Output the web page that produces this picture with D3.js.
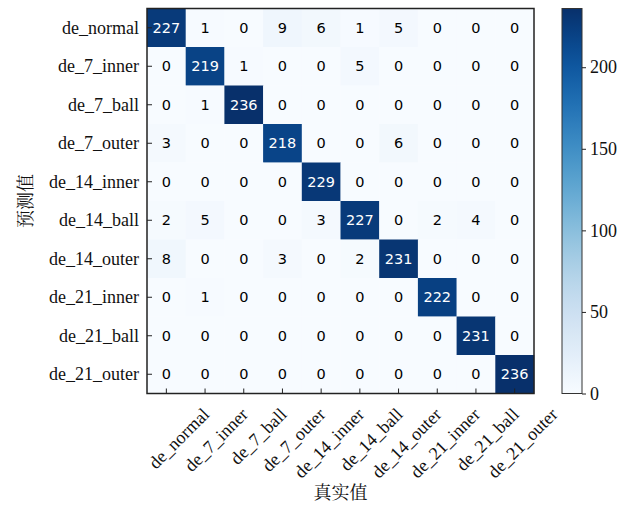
<!DOCTYPE html>
<html>
<head>
<meta charset="utf-8">
<script src="https://cdn.jsdelivr.net/npm/d3@7"></script>
<style>
  html, body { margin: 0; padding: 0; background: #fff; }
  svg { display: block; }
  .serif { font-family: "Liberation Serif", "Times New Roman", serif; }
  .cjk { font-family: "Noto Serif CJK SC", "Noto Sans CJK SC", serif; }
  .num { font-family: "DejaVu Sans", sans-serif; }
</style>
</head>
<body>
<svg id="chart" width="629" height="506"></svg>
<script>
// Class names (rows = predicted, columns = true)
const classes = ["de_normal", "de_7_inner", "de_7_ball", "de_7_outer", "de_14_inner",
                 "de_14_ball", "de_14_outer", "de_21_inner", "de_21_ball", "de_21_outer"];

// Confusion matrix counts, one array per predicted class
const row_de_normal   = [227, 1, 0, 9, 6, 1, 5, 0, 0, 0];
const row_de_7_inner  = [0, 219, 1, 0, 0, 5, 0, 0, 0, 0];
const row_de_7_ball   = [0, 1, 236, 0, 0, 0, 0, 0, 0, 0];
const row_de_7_outer  = [3, 0, 0, 218, 0, 0, 6, 0, 0, 0];
const row_de_14_inner = [0, 0, 0, 0, 229, 0, 0, 0, 0, 0];
const row_de_14_ball  = [2, 5, 0, 0, 3, 227, 0, 2, 4, 0];
const row_de_14_outer = [8, 0, 0, 3, 0, 2, 231, 0, 0, 0];
const row_de_21_inner = [0, 1, 0, 0, 0, 0, 0, 222, 0, 0];
const row_de_21_ball  = [0, 0, 0, 0, 0, 0, 0, 0, 231, 0];
const row_de_21_outer = [0, 0, 0, 0, 0, 0, 0, 0, 0, 236];

const colorbarTicks = [0, 50, 100, 150, 200];
const xTitle = "真实值";
const yTitle = "预测值";

const matrix = [row_de_normal, row_de_7_inner, row_de_7_ball, row_de_7_outer, row_de_14_inner,
                row_de_14_ball, row_de_14_outer, row_de_21_inner, row_de_21_ball, row_de_21_outer];

const svg = d3.select("#chart");
const plot = { left: 147, top: 8.5, width: 387, height: 385 };
const vmax = d3.max(matrix.flat());

const x = d3.scaleBand().domain(classes).range([plot.left, plot.left + plot.width]);
const y = d3.scaleBand().domain(classes).range([plot.top, plot.top + plot.height]);
const color = d3.scaleSequential(d3.interpolateBlues).domain([0, vmax]);

const cells = [];
matrix.forEach((row, i) => row.forEach((v, j) => cells.push({ pred: classes[i], truth: classes[j], v })));

// Heatmap cells
svg.append("g").selectAll("rect").data(cells).join("rect")
  .attr("x", d => x(d.truth))
  .attr("y", d => y(d.pred))
  .attr("width", x.bandwidth() + 0.3)
  .attr("height", y.bandwidth() + 0.3)
  .attr("fill", d => color(d.v));

// Cell counts
svg.append("g").selectAll("text").data(cells).join("text")
  .attr("class", "num")
  .attr("x", d => x(d.truth) + x.bandwidth() / 2)
  .attr("y", d => y(d.pred) + y.bandwidth() / 2)
  .attr("text-anchor", "middle")
  .attr("dominant-baseline", "central")
  .attr("font-size", 14.5)
  .attr("fill", d => d.v > vmax / 2 ? "#ffffff" : "#000000")
  .text(d => d.v);

// Axes with inward ticks
const yAxis = svg.append("g")
  .attr("transform", `translate(${plot.left},0)`)
  .call(d3.axisLeft(y).tickSizeInner(-5).tickSizeOuter(0).tickPadding(8));
yAxis.attr("font-family", null).attr("font-size", null);
yAxis.select(".domain").remove();
yAxis.selectAll("line").attr("stroke", "#222").attr("stroke-width", 1);
yAxis.selectAll("text").attr("class", "serif").attr("font-size", 18).attr("fill", "#111")
  .attr("x", -8).attr("dy", "0.32em");

const xAxis = svg.append("g")
  .attr("transform", `translate(0,${plot.top + plot.height})`)
  .call(d3.axisBottom(x).tickSizeInner(-5).tickSizeOuter(0));
xAxis.attr("font-family", null).attr("font-size", null);
xAxis.select(".domain").remove();
xAxis.selectAll("line").attr("stroke", "#222").attr("stroke-width", 1);
xAxis.selectAll("text").remove();
xAxis.selectAll(".tick").append("text")
  .attr("class", "serif")
  .attr("text-anchor", "end")
  .attr("font-size", 18).attr("fill", "#111")
  .attr("transform", "translate(44,22) rotate(-45)")
  .text(d => d);

// Plot frame
svg.append("rect")
  .attr("x", plot.left).attr("y", plot.top)
  .attr("width", plot.width).attr("height", plot.height)
  .attr("fill", "none").attr("stroke", "#222").attr("stroke-width", 1.5);

// Axis titles
svg.append("text")
  .attr("class", "cjk")
  .attr("x", plot.left + plot.width / 2).attr("y", 499)
  .attr("text-anchor", "middle")
  .attr("font-size", 18).attr("fill", "#111")
  .text(xTitle);
svg.append("text")
  .attr("class", "cjk")
  .attr("transform", `translate(32,${plot.top + plot.height / 2}) rotate(-90)`)
  .attr("text-anchor", "middle")
  .attr("font-size", 18).attr("fill", "#111")
  .text(yTitle);

// Colorbar
const cb = { left: 562, width: 20 };
const cbScale = d3.scaleLinear().domain([0, vmax]).range([plot.top + plot.height, plot.top]);
const defs = svg.append("defs");
const grad = defs.append("linearGradient").attr("id", "cbgrad")
  .attr("x1", 0).attr("y1", 1).attr("x2", 0).attr("y2", 0);
d3.range(0, 1.0001, 0.05).forEach(t => {
  grad.append("stop").attr("offset", t).attr("stop-color", d3.interpolateBlues(t));
});
svg.append("rect")
  .attr("x", cb.left).attr("y", plot.top)
  .attr("width", cb.width).attr("height", plot.height)
  .attr("fill", "url(#cbgrad)")
  .attr("stroke", "#333").attr("stroke-width", 1);

const cbAxis = svg.append("g")
  .attr("transform", `translate(${cb.left + cb.width},0)`)
  .call(d3.axisRight(cbScale).tickValues(colorbarTicks).tickSizeInner(4).tickSizeOuter(0).tickPadding(4));
cbAxis.attr("font-family", null).attr("font-size", null);
cbAxis.select(".domain").remove();
cbAxis.selectAll("line").attr("stroke", "#222");
cbAxis.selectAll("text").attr("class", "serif").attr("font-size", 18).attr("fill", "#111");
</script>
</body>
</html>
